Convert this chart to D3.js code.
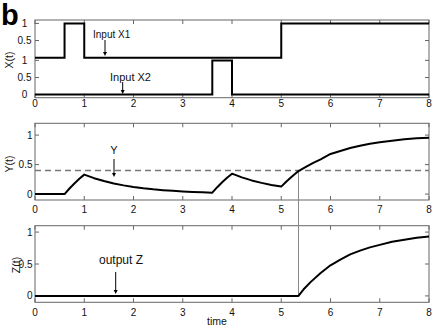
<!DOCTYPE html>
<html><head><meta charset="utf-8">
<script src="https://cdn.jsdelivr.net/npm/d3@7"></script>
<style>body{margin:0;background:#fff}svg{display:block;font-family:"Liberation Sans",Arial,sans-serif}</style>
</head><body><svg id="c" width="436" height="327"></svg>
<script>
const timeTicks = [0,1,2,3,4,5,6,7,8];
const x1Times = [0,0.6,1,5,8];
const x1Values = [0,1,0,1,1];
const x2Times = [0,3.6,4,8];
const x2Values = [0,1,0,0];
const x1Offset = 1.08;
const yTimes = [0,0.6,0.7,0.8,0.9,1.0,1.2,1.4,1.6,1.8,2.0,2.2,2.4,2.6,2.8,3.0,3.2,3.4,3.6,3.7,3.8,3.9,4.0,4.2,4.4,4.6,4.8,5.0,5.1,5.2,5.35,5.5,5.65,5.8,6.0,6.2,6.4,6.6,6.8,7.0,7.25,7.5,7.75,8.0];
const yValues = [0,0,0.095,0.18,0.26,0.33,0.27,0.221,0.181,0.148,0.121,0.099,0.081,0.067,0.055,0.045,0.037,0.030,0.024,0.117,0.201,0.277,0.346,0.283,0.232,0.19,0.156,0.127,0.21,0.285,0.39,0.46,0.53,0.59,0.68,0.73,0.78,0.82,0.855,0.88,0.905,0.93,0.945,0.957];
const zTimes = [0,5.35,5.45,5.6,5.8,6.0,6.2,6.4,6.6,6.8,7.0,7.25,7.5,7.75,8.0];
const zValues = [0,0,0.10,0.22,0.36,0.48,0.57,0.65,0.71,0.76,0.80,0.85,0.88,0.91,0.93];
const threshold = 0.4;
const crossTime = 5.35;
const topTicks = [0,0.5,1];
const midTicks = [0,0.5,1];
const botTicks = [0,0.5,1];

const svg = d3.select("#c");
const x = d3.scaleLinear().domain([0,8]).range([35,429]);
const y1 = d3.scaleLinear().domain([-0.09,2.18]).range([97.7,20]);
const y2 = d3.scaleLinear().domain([-0.1,1.2]).range([200,123.3]);
const y3 = d3.scaleLinear().domain([-0.1,1.1]).range([302.3,225.7]);
const boxColor = "#666";

function panel(ys, yTickVals, yLabels, labelAnchor, labelX, xLabelY){
  const [b,t] = ys.range();
  const g = svg.append("g");
  timeTicks.forEach(v=>{
    g.append("line").attr("x1",x(v)).attr("x2",x(v)).attr("y1",b).attr("y2",b-4).attr("stroke",boxColor).attr("stroke-width",1);
    g.append("line").attr("x1",x(v)).attr("x2",x(v)).attr("y1",t).attr("y2",t+4).attr("stroke",boxColor).attr("stroke-width",1);
    g.append("text").attr("x",x(v)).attr("y",xLabelY).attr("text-anchor","middle").attr("font-size",10).attr("fill","#111").text(v);
  });
  yTickVals.forEach((v,i)=>{
    g.append("line").attr("x1",x(0)).attr("x2",x(0)+4).attr("y1",ys(v)).attr("y2",ys(v)).attr("stroke",boxColor);
    g.append("line").attr("x1",x(8)).attr("x2",x(8)-4).attr("y1",ys(v)).attr("y2",ys(v)).attr("stroke",boxColor);
    g.append("text").attr("x",labelX).attr("y",ys(v)+3.5).attr("text-anchor",labelAnchor).attr("font-size",10).attr("fill","#111").text(yLabels[i]);
  });
  g.append("rect").attr("x",x(0)).attr("y",t).attr("width",x(8)-x(0)).attr("height",b-t).attr("fill","none").attr("stroke",boxColor).attr("stroke-width",1);
  return g;
}

panel(y1, [0,0.5,1,x1Offset+0.5,x1Offset+1], ["0","0.5","1","0.5","1"], "middle", 24.5, 107);
panel(y2, midTicks, midTicks.map(String), "end", 32.5, 213);
panel(y3, botTicks, botTicks.map(String), "end", 32.5, 315.5);

const x1Data = x1Times.map((t,i)=>[t,x1Values[i]+x1Offset]);
const x2Data = x2Times.map((t,i)=>[t,x2Values[i]]);
const stepLine = d3.line().x(d=>x(d[0])).y(d=>y1(d[1])).curve(d3.curveStepAfter);
svg.append("path").attr("d",stepLine(x1Data)).attr("fill","none").attr("stroke","#000").attr("stroke-width",2);
svg.append("path").attr("d",stepLine(x2Data)).attr("fill","none").attr("stroke","#000").attr("stroke-width",2);

svg.append("line").attr("x1",x(0)).attr("x2",x(8)).attr("y1",y2(threshold)).attr("y2",y2(threshold))
  .attr("stroke","#777").attr("stroke-width",1.5).attr("stroke-dasharray","6,4");

svg.append("line").attr("x1",x(crossTime)).attr("x2",x(crossTime)).attr("y1",y2(threshold)).attr("y2",y3(0))
  .attr("stroke","#888").attr("stroke-width",1);

const yData = yTimes.map((t,i)=>[t,yValues[i]]);
const zData = zTimes.map((t,i)=>[t,zValues[i]]);
svg.append("path").attr("d",d3.line().x(d=>x(d[0])).y(d=>y2(d[1]))(yData)).attr("fill","none").attr("stroke","#000").attr("stroke-width",2).attr("stroke-linejoin","round");
svg.append("path").attr("d",d3.line().x(d=>x(d[0])).y(d=>y3(d[1]))(zData)).attr("fill","none").attr("stroke","#000").attr("stroke-width",2).attr("stroke-linejoin","round");

function vlabel(txt,cx,cy){
  svg.append("text").attr("transform",`translate(${cx},${cy}) rotate(-90)`).attr("text-anchor","middle").attr("font-size",10.5).attr("fill","#111").text(txt);
}
vlabel("X(t)",13,60);
vlabel("Y(t)",13,164);
vlabel("Z(t)",20,265);
svg.append("text").attr("x",217).attr("y",325).attr("text-anchor","middle").attr("font-size",10.5).attr("fill","#111").text("time");

svg.append("text").attr("x",1).attr("y",25).attr("font-size",29).attr("font-weight","bold").attr("fill","#000").text("b");

function arrow(ax,ya,yb){
  svg.append("line").attr("x1",ax).attr("x2",ax).attr("y1",ya).attr("y2",yb-3).attr("stroke","#000").attr("stroke-width",1);
  svg.append("path").attr("d",`M${ax-2},${yb-4}L${ax+2},${yb-4}L${ax},${yb}Z`).attr("fill","#000");
}
svg.append("text").attr("x",93).attr("y",38).attr("font-size",10).attr("fill","#111").text("Input X1");
arrow(105,40,56);
svg.append("text").attr("x",110).attr("y",80.5).attr("font-size",11).attr("fill","#111").text("Input X2");
arrow(122.7,82,94);
svg.append("text").attr("x",114).attr("y",153.5).attr("text-anchor","middle").attr("font-size",11).attr("fill","#111").text("Y");
arrow(114,159,177);
svg.append("text").attr("x",99).attr("y",264).attr("font-size",12).attr("fill","#111").text("output Z");
arrow(115.7,272,294);
</script></body></html>
